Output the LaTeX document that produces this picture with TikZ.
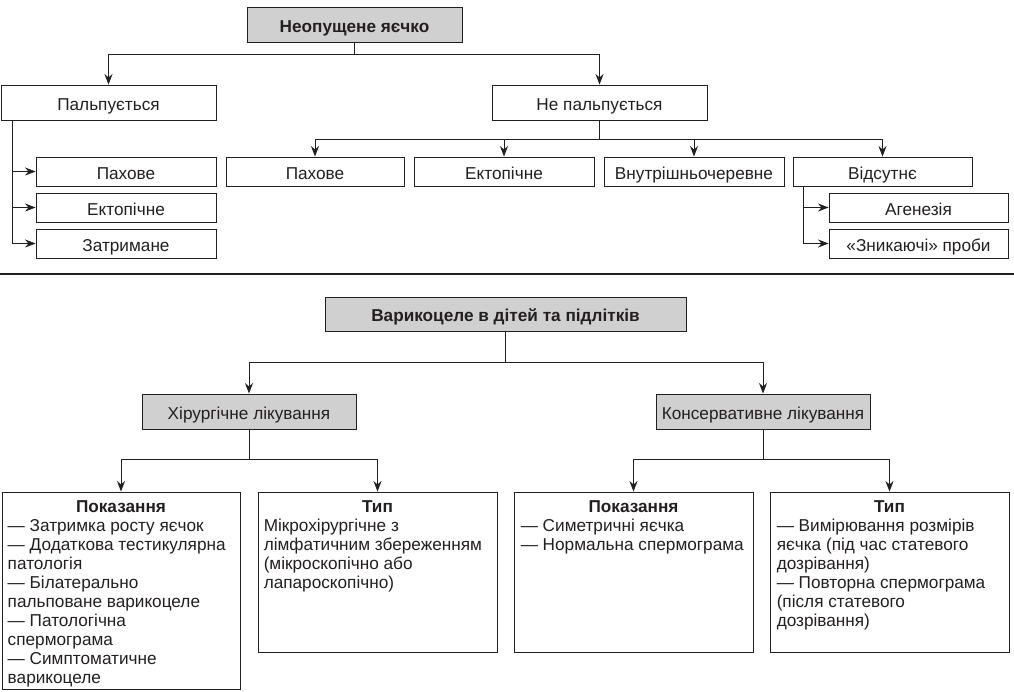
\documentclass[tikz,border=0pt]{standalone}
\usepackage{fontspec}
\setmainfont{Liberation Sans}
\usetikzlibrary{arrows.meta,calc}
\definecolor{boxgray}{RGB}{208,208,208}
\definecolor{ink}{RGB}{35,31,32}
\newcommand{\fsz}{\fontsize{17.2}{19}\selectfont}
\tikzset{
  base/.style={font=\fsz, text=ink},
  box/.style={base, draw=ink, line width=0.9pt, rectangle, inner sep=0pt, minimum width=#1, text height=15.2pt, text depth=0pt},
  emptybox/.style={draw=ink, line width=0.9pt, rectangle, inner sep=0pt, minimum width=#1},
  graybox/.style={box=#1, fill=boxgray},
  arr/.style={draw=ink, line width=0.9pt, -{Stealth[length=10.5pt,width=8pt]}},
  bodytxt/.style={base, inner sep=0pt, align=left, anchor=north west},
  headtxt/.style={font=\fsz\bfseries, text=ink, inner sep=0pt, anchor=base},
}
\begin{document}
\begin{tikzpicture}[x=1pt,y=-1pt]
\useasboundingbox (0,0) rectangle (1014,692);
% ---------- top section ----------
\node[graybox=215, minimum height=35, font=\fsz\bfseries] (top) at (354.5,24.5) {Неопущене яєчко};
\node[box=215, minimum height=35] (palp) at (108.5,102.5) {Пальпується};
\node[box=215, minimum height=35] (nepalp) at (599.5,102.5) {Не пальпується};
\node[box=180, minimum height=29] (l1) at (126,171.5) {Пахове};
\node[box=180, minimum height=29] (l2) at (126,207.5) {Ектопічне};
\node[box=180, minimum height=29] (l3) at (126,243.5) {Затримане};
\node[box=178, minimum height=29] (c1) at (315,171.5) {Пахове};
\node[box=180, minimum height=29] (c2) at (504,171.5) {Ектопічне};
\node[box=180, minimum height=29] (c3) at (694,171.5) {Внутрішньочеревне};
\node[box=179, minimum height=29] (c4) at (882.5,171.5) {Відсутнє};
\node[box=179, minimum height=29] (r1) at (918.5,207.5) {Агенезія};
\node[box=179, minimum height=29] (r2) at (918.5,243.5) {«Зникаючі» проби};

\draw[arr] (top.south) -- ++(0,12) -| (palp.north);
\draw[arr] (top.south) -- ++(0,12) -| (nepalp.north);
\coordinate (pv) at ($(palp.south west)+(12,0)$);
\draw[arr] (pv) |- (l1.west);
\draw[arr] (pv) |- (l2.west);
\draw[arr] (pv) |- (l3.west);
\draw[arr] (nepalp.south) -- ++(0,19) -| (c1.north);
\draw[arr] (nepalp.south) -- ++(0,19) -| (c2.north);
\draw[arr] (nepalp.south) -- ++(0,19) -| (c3.north);
\draw[arr] (nepalp.south) -- ++(0,19) -| (c4.north);
\coordinate (vv) at ($(c4.south west)+(11,0)$);
\draw[arr] (vv) |- (r1.west);
\draw[arr] (vv) |- (r2.west);

% separator
\coordinate (sepL) at (0,274);
\coordinate (sepR) at (1014,274);
\draw[draw=ink, line width=1.3pt] (sepL) -- (sepR);

% ---------- bottom section ----------
\node[graybox=361, minimum height=34, font=\fsz\bfseries] (var) at (505.5,314) {Варикоцеле в дітей та підлітків};
\node[graybox=214, minimum height=35] (hir) at (249,411.5) {Хірургічне лікування};
\node[graybox=214, minimum height=35] (kons) at (763,411.5) {Консервативне лікування};
\node[emptybox=238, minimum height=197] (lp) at (121,590.5) {};
\node[emptybox=239, minimum height=160] (lt) at (377.5,572) {};
\node[emptybox=239, minimum height=160] (rp) at (633.5,572) {};
\node[emptybox=239, minimum height=160] (rt) at (889.5,572) {};

\draw[arr] (var.south) -- ++(0,31) -| (hir.north);
\draw[arr] (var.south) -- ++(0,31) -| (kons.north);
\draw[arr] (hir.south) -- ++(0,30) -| (lp.north);
\draw[arr] (hir.south) -- ++(0,30) -| (lt.north);
\draw[arr] (kons.south) -- ++(0,30) -| (rp.north);
\draw[arr] (kons.south) -- ++(0,30) -| (rt.north);

\node[headtxt] (lph) at ($(lp.north)+(0,21)$) {Показання};
\node[headtxt] (lth) at ($(lt.north)+(0,21)$) {Тип};
\node[headtxt] (rph) at ($(rp.north)+(0,21)$) {Показання};
\node[headtxt] (rth) at ($(rt.north)+(0,21)$) {Тип};

\node[bodytxt] (lpb) at ($(lp.north west)+(6,27)$) {\rule{0pt}{13pt}— Затримка росту яєчок\\— Додаткова тестикулярна\\патологія\\— Білатерально\\пальповане варикоцеле\\— Патологічна\\спермограма\\— Симптоматичне\\варикоцеле};
\node[bodytxt] (ltb) at ($(lt.north west)+(6,27)$) {\rule{0pt}{13pt}Мікрохірургічне з\\лімфатичним збереженням\\(мікроскопічно або\\лапароскопічно)};
\node[bodytxt] (rpb) at ($(rp.north west)+(7,27)$) {\rule{0pt}{13pt}— Симетричні яєчка\\— Нормальна спермограма};
\node[bodytxt] (rtb) at ($(rt.north west)+(7,27)$) {\rule{0pt}{13pt}— Вимірювання розмірів\\яєчка (під час статевого\\дозрівання)\\— Повторна спермограма\\(після статевого\\дозрівання)};
\end{tikzpicture}
\end{document}
